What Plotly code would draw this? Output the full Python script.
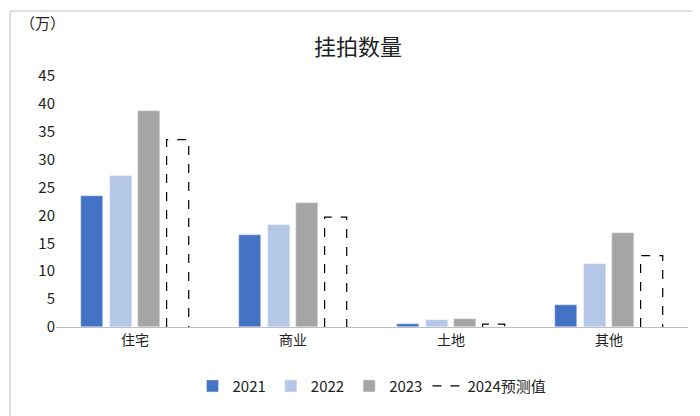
import plotly.graph_objects as go

categories = ["住宅", "商业", "土地", "其他"]
series_names = ["2021", "2022", "2023", "2024预测值"]
v2021 = [23.5, 16.5, 0.5, 3.9]
v2022 = [27.1, 18.2, 1.2, 11.3]
v2023 = [38.8, 22.3, 1.5, 16.8]
v2024 = [33.6, 19.7, 0.5, 12.8]
colors = ["#4472C4", "#B4C7E7", "#A5A5A5"]

step = 0.18
width = 0.14
fig = go.Figure()
for i, (vals, c) in enumerate(zip([v2021, v2022, v2023], colors)):
    off = (i - 1.5) * step
    fig.add_bar(x=[k + off for k in range(len(categories))], y=vals, width=width,
                marker_color=c, name=series_names[i])
off = 1.5 * step
xs, ys = [], []
for k, v in enumerate(v2024):
    x0, x1 = k + off - width / 2, k + off + width / 2
    xs += [x0, x0, x1, x1, None]
    ys += [0, v, v, 0, None]
fig.add_scatter(x=xs, y=ys, mode="lines", line=dict(color="black", dash="dash", width=1.2),
                name=series_names[3])

L, R, T, B = 48, 20, 68, 97
pw, ph = 700 - L - R, 416 - T - B
fig.update_layout(
    width=700, height=416, plot_bgcolor="white", paper_bgcolor="white",
    margin=dict(l=L, r=R, t=T, b=B),
    font=dict(family="Noto Sans CJK SC", size=14, color="#222"),
    title=dict(text="挂拍数量", x=0.5, y=0.925, xanchor="center", font=dict(size=22)),
    barmode="overlay", bargap=0,
    legend=dict(orientation="h", x=0.5, xanchor="center", y=-0.17, yanchor="top", font=dict(size=15)),
    xaxis=dict(range=[-0.5, 3.5], tickvals=list(range(len(categories))), ticktext=categories,
               showline=True, linecolor="#BFBFBF", showgrid=False, ticks="", zeroline=False),
    yaxis=dict(range=[0, 45], dtick=5, showgrid=False, zeroline=False, showline=False,
               tickfont=dict(size=15), ticks=""),
    annotations=[dict(text="（万）", xref="paper", yref="paper", x=(10 - L) / pw, y=1 + (T - 15) / ph,
                      xanchor="left", yanchor="middle", showarrow=False, font=dict(size=15))],
    shapes=[dict(type="rect", xref="paper", yref="paper", x0=(2 - L) / pw, x1=(698 - L) / pw,
                 y0=-(B - 3) / ph, y1=1 + (T - 3) / ph,
                 line=dict(color="#BFBFBF", width=1))],
)
fig.write_html("out.html")
